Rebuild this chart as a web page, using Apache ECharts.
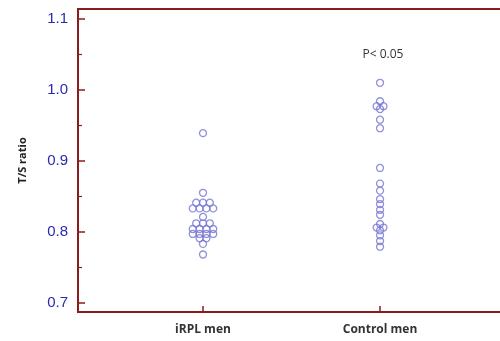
<!DOCTYPE html>
<html>
<head>
<meta charset="utf-8">
<script src="https://cdn.jsdelivr.net/npm/echarts@6/dist/echarts.min.js"></script>
<style>
  html, body { margin: 0; padding: 0; background: #fff; }
  #chart { width: 500px; height: 341px; }
</style>
</head>
<body>
<div id="chart"></div>
<script>
// 两组 T/S ratio 散点
var categories = ['iRPL men', 'Control men']
var irplValues = [0.939, 0.855, 0.841, 0.841, 0.841, 0.833, 0.833, 0.833, 0.833, 0.821,
  0.812, 0.812, 0.812, 0.804, 0.804, 0.804, 0.804, 0.797, 0.797, 0.797, 0.797,
  0.791, 0.791, 0.783, 0.768]
var controlValues = [1.010, 0.984, 0.977, 0.977, 0.973, 0.958, 0.946, 0.890, 0.868, 0.858,
  0.846, 0.839, 0.831, 0.824, 0.811, 0.806, 0.806, 0.802, 0.795, 0.787, 0.779]
var yTicks = [0.7, 0.8, 0.9, 1.0, 1.1]
var yMinorTicks = [0.75, 0.85, 0.95, 1.05]
var pText = 'P< 0.05'

// 相同数值的点横向排开
function spread (values, pos) {
  var step = 0.0385
  var groups = {}
  values.forEach(function (v) {
    groups[v] = (groups[v] || 0) + 1
  })
  var seen = {}
  return values.map(function (v) {
    var n = groups[v]
    var i = seen[v] || 0
    seen[v] = i + 1
    return [pos + (i - (n - 1) / 2) * step, v]
  })
}

var axisRed = '#8b1c1c'
var dotStyle = {
  color: 'rgba(0,0,0,0)',
  borderColor: '#7676d2',
  borderWidth: 1.3
}

var myChart = echarts.init(document.getElementById('chart'))
var option = {
  backgroundColor: '#fff',
  animation: false,
  grid: {
    show: true,
    left: 78,
    top: 9,
    bottom: 29,
    right: -10,
    outerBoundsMode: 'none',
    containLabel: false,
    borderColor: axisRed,
    borderWidth: 2,
    backgroundColor: 'transparent'
  },
  xAxis: {
    type: 'value',
    min: 0.294,
    max: 2.734,
    splitLine: { show: false },
    axisLine: { show: false },
    axisTick: {
      show: true,
      inside: true,
      length: 6,
      customValues: [1, 2],
      lineStyle: { color: axisRed, width: 1.5 }
    },
    axisLabel: {
      customValues: [1, 2],
      margin: 12,
      color: '#333',
      fontSize: 12,
      fontWeight: 'bold',
      fontFamily: 'Open Sans',
      formatter: function (v) {
        return categories[Math.round(v) - 1] || ''
      }
    }
  },
  yAxis: [
    {
      type: 'value',
      min: 0.687,
      max: 1.114,
      name: 'T/S ratio',
      nameLocation: 'middle',
      nameRotate: 90,
      nameGap: 50,
      nameTextStyle: {
        color: '#222',
        fontSize: 11,
        fontWeight: 'bold',
        fontFamily: 'Open Sans'
      },
      splitLine: { show: false },
      axisLine: { show: false },
      axisTick: {
        show: true,
        inside: true,
        length: 7,
        customValues: yTicks,
        lineStyle: { color: axisRed, width: 1.5 }
      },
      axisLabel: {
        customValues: yTicks,
        margin: 10,
        color: '#2a2aae',
        fontSize: 15,
        fontFamily: 'Liberation Sans',
        formatter: function (v) { return v.toFixed(1) }
      }
    },
    {
      type: 'value',
      position: 'left',
      min: 0.687,
      max: 1.114,
      splitLine: { show: false },
      axisLine: { show: false },
      axisLabel: { show: false },
      axisTick: {
        show: true,
        inside: true,
        length: 4,
        customValues: yMinorTicks,
        lineStyle: { color: axisRed, width: 1.2 }
      }
    }
  ],
  graphic: [
    {
      type: 'text',
      x: 383,
      y: 55,
      style: {
        text: pText,
        fill: '#333',
        font: '12px "Open Sans"',
        align: 'center',
        verticalAlign: 'middle'
      }
    }
  ],
  series: [
    {
      name: categories[0],
      type: 'scatter',
      symbol: 'circle',
      symbolSize: 7,
      itemStyle: dotStyle,
      data: spread(irplValues, 1)
    },
    {
      name: categories[1],
      type: 'scatter',
      symbol: 'circle',
      symbolSize: 7,
      itemStyle: dotStyle,
      data: spread(controlValues, 2)
    }
  ]
}
myChart.setOption(option, true)
</script>
</body>
</html>
